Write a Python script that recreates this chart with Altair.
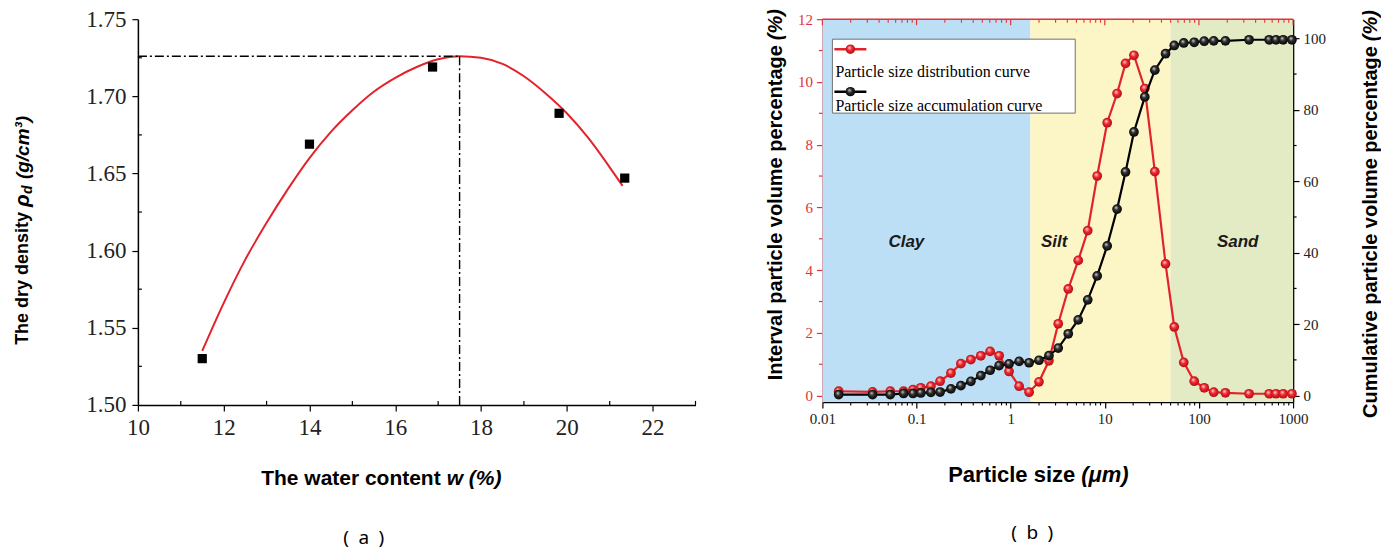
import altair as alt
import pandas as pd

# ---------------- (a) compaction data ----------------
water = [11.5, 14.0, 16.87, 19.82, 21.35]
density = [1.530, 1.669, 1.719, 1.689, 1.647]
fit_w = [11.5, 12.0, 12.5, 13.0, 13.5, 14.0, 14.5, 15.0, 15.5, 16.0, 16.5,
         17.0, 17.5, 18.0, 18.5, 19.0, 19.5, 20.0, 20.5, 21.0, 21.3]
fit_rho = [1.535, 1.566, 1.594, 1.618, 1.640, 1.660, 1.677, 1.691, 1.703, 1.712, 1.719,
           1.724, 1.726, 1.725, 1.721, 1.713, 1.702, 1.689, 1.673, 1.654, 1.642]
peak_w = 17.5
peak_rho = 1.726
w_major = [10, 12, 14, 16, 18, 20, 22]
w_minor = [11, 13, 15, 17, 19, 21, 23]
rho_major = [1.50, 1.55, 1.60, 1.65, 1.70, 1.75]
rho_minor = [1.525, 1.575, 1.625, 1.675, 1.725]

# ---------------- (b) particle size data ----------------
size_um = [0.0149, 0.0341, 0.0526, 0.0728, 0.0917, 0.111, 0.142, 0.178, 0.232, 0.296,
           0.378, 0.482, 0.605, 0.754, 0.961, 1.23, 1.57, 2.0, 2.55, 3.2,
           4.09, 5.22, 6.59, 8.30, 10.6, 13.5, 16.6, 20.4, 26.6, 34.0,
           44.2, 54.7, 69.0, 89.1, 113.8, 143.6, 191, 341, 557, 659,
           785, 973]
interval_pct = [0.14, 0.12, 0.14, 0.14, 0.19, 0.25, 0.30, 0.46, 0.72, 1.02,
                1.15, 1.27, 1.41, 1.27, 0.77, 0.30, 0.11, 0.44, 1.11, 2.29,
                3.40, 4.31, 5.26, 7.00, 8.70, 9.63, 10.59, 10.85, 9.79, 7.14,
                4.20, 2.19, 1.06, 0.46, 0.25, 0.11, 0.09, 0.06, 0.06, 0.06,
                0.06, 0.06]
cumulative_pct = [0.3, 0.3, 0.3, 0.6, 0.6, 0.75, 0.9, 1.0, 1.9, 2.8,
                  4.0, 5.6, 7.1, 8.4, 8.9, 9.6, 9.2, 9.9, 11.2, 13.3,
                  17.3, 21.2, 26.8, 33.5, 41.9, 52.2, 62.6, 73.8, 83.6, 91.1,
                  95.7, 98.0, 98.7, 98.9, 99.2, 99.3, 99.3, 99.6, 99.6, 99.6,
                  99.6, 99.6]
zone_names = ["Clay", "Silt", "Sand"]
zone_start = [0.01, 1.62, 50]
zone_end = [1.62, 50, 1000]
zone_colors = ["#bcdff5", "#fcf5c6", "#e3ebc4"]
zone_label_x = [0.078, 2.9, 258]
zone_label_y = [4.9, 4.9, 4.9]
x_major = [0.01, 0.1, 1, 10, 100, 1000]
x_minor = [m * d for d in [0.01, 0.1, 1, 10, 100] for m in range(2, 10)]
left_major = [0, 2, 4, 6, 8, 10, 12]
left_minor = [1, 3, 5, 7, 9, 11]
right_major = [0, 20, 40, 60, 80, 100]
right_minor = [10, 30, 50, 70, 90]

RED = "#e3232b"
AXRED = "#e0343a"
SERIF = "Liberation Serif"
SANS = "Liberation Sans"
one = pd.DataFrame({"a": [0]})


def txt(x, y, s, size=17, bold=True, italic=False, align="center", angle=0,
        font=SANS, color="black", baseline="middle"):
    kw = dict(font=font, fontSize=size, fontWeight="bold" if bold else "normal",
              fontStyle="italic" if italic else "normal", align=align,
              baseline=baseline, color=color)
    if angle:
        kw["angle"] = angle
    return alt.Chart(one).mark_text(**kw).encode(
        x=alt.value(x), y=alt.value(y), text=alt.value(s))


# =============== left chart ===============
LW, LH = 558, 386
wx_scale = alt.Scale(domain=[10, 23], nice=False)
ry_scale = alt.Scale(domain=[1.50, 1.75], nice=False)
wx_axis = alt.Axis(values=w_major, labelFont=SERIF, labelFontSize=23, labelColor="#222",
                   tickSize=6, tickColor="black", domainColor="black", domainWidth=1.5,
                   tickWidth=1.2, grid=False, title=None, labelPadding=6, labelFlush=False)
ry_axis = alt.Axis(values=rho_major, format=".2f", labelFont=SERIF, labelFontSize=23,
                   labelColor="#222", tickSize=6, tickColor="black", domainColor="black",
                   domainWidth=1.5, tickWidth=1.2, grid=False, title=None, labelPadding=6)

fit_df = pd.DataFrame({"w": fit_w, "rho": fit_rho})
pts_df = pd.DataFrame({"w": water, "rho": density})

fit_line = alt.Chart(fit_df).mark_line(color=RED, strokeWidth=2, interpolate="monotone").encode(
    x=alt.X("w:Q", scale=wx_scale, axis=wx_axis),
    y=alt.Y("rho:Q", scale=ry_scale, axis=ry_axis))
sq = alt.Chart(pts_df).mark_square(size=85, color="black", opacity=1).encode(
    x=alt.X("w:Q", scale=wx_scale, axis=wx_axis),
    y=alt.Y("rho:Q", scale=ry_scale, axis=ry_axis))
hline = alt.Chart(pd.DataFrame({"w0": [10], "w1": [peak_w], "rho": [peak_rho]})).mark_rule(
    color="black", strokeWidth=1.4, strokeDash=[9, 3, 2, 3]).encode(
    x=alt.X("w0:Q", scale=wx_scale, axis=wx_axis), x2="w1:Q",
    y=alt.Y("rho:Q", scale=ry_scale, axis=ry_axis))
vline = alt.Chart(pd.DataFrame({"w": [peak_w], "r0": [1.50], "r1": [peak_rho]})).mark_rule(
    color="black", strokeWidth=1.4, strokeDash=[9, 3, 2, 3]).encode(
    x=alt.X("w:Q", scale=wx_scale, axis=wx_axis),
    y=alt.Y("r0:Q", scale=ry_scale, axis=ry_axis), y2="r1:Q")
wminor = alt.Chart(pd.DataFrame({"w": w_minor})).mark_rule(color="black", strokeWidth=1.2).encode(
    x=alt.X("w:Q", scale=wx_scale, axis=wx_axis),
    y=alt.value(LH - 4), y2=alt.value(LH))
rminor = alt.Chart(pd.DataFrame({"rho": rho_minor})).mark_rule(color="black", strokeWidth=1.2).encode(
    y=alt.Y("rho:Q", scale=ry_scale, axis=ry_axis),
    x=alt.value(0), x2=alt.value(4))

left = alt.layer(
    fit_line, sq, hline, vline, wminor, rminor,
    txt(-115, 193, "The dry density", size=18, align="right", angle=270),
    txt(-115, 188, "ρ", size=21, italic=True, align="left", angle=270),
    txt(-110, 175, "d", size=14, italic=True, align="left", angle=270),
    txt(-115, 160, "(g/cm³)", size=19, italic=True, align="left", angle=270),
    txt(303, 460, "The water content", size=21, align="right"),
    txt(309, 460, "w (%)", size=21, italic=True, align="left"),
    txt(226, 519, "(\u2002a\u2002)", size=19, bold=False, font="Noto Sans"),
).properties(width=LW, height=LH)

# =============== right chart ===============
RW, RH = 471, 383
px_scale = alt.Scale(type="log", domain=[0.01, 1000], nice=False)
px_axis = alt.Axis(values=x_major, format="~g", labelFont=SERIF, labelFontSize=15,
                   labelColor="#222", tickSize=6, tickColor="black", domainColor="black",
                   domainWidth=1.5, tickWidth=1.2, grid=False, title=None, labelPadding=4,
                   labelFlush=False, labelOverlap=False)
ly_scale = alt.Scale(domain=[-0.2, 12], nice=False, zero=False)
ly_axis = alt.Axis(orient="left", values=left_major, labelFont=SERIF, labelFontSize=15,
                   labelColor=AXRED, tickColor=AXRED, domainColor=AXRED, domainWidth=1.5,
                   tickWidth=1.2, tickSize=6, grid=False, title=None, labelPadding=4)
cy_scale = alt.Scale(domain=[-1.76, 105.36], nice=False, zero=False)
cy_axis = alt.Axis(orient="right", values=right_major, labelFont=SERIF, labelFontSize=15,
                   labelColor="#222", tickColor="black", domainColor="black", domainWidth=1.5,
                   tickWidth=1.2, tickSize=6, grid=False, title=None, labelPadding=4)

red_grad = alt.Gradient(gradient="radial", x1=0.38, y1=0.32, r1=0.0, x2=0.5, y2=0.5, r2=0.55,
                        stops=[alt.GradientStop(color="#ffe3e3", offset=0),
                               alt.GradientStop(color="#f2262e", offset=0.45),
                               alt.GradientStop(color="#a80c12", offset=1)])
blk_grad = alt.Gradient(gradient="radial", x1=0.38, y1=0.32, r1=0.0, x2=0.5, y2=0.5, r2=0.55,
                        stops=[alt.GradientStop(color="#e0e0e0", offset=0),
                               alt.GradientStop(color="#303030", offset=0.4),
                               alt.GradientStop(color="#000000", offset=1)])

zones = pd.DataFrame({"zone": zone_names, "start": zone_start, "end": zone_end})
band = alt.Chart(zones).mark_rect(opacity=1).encode(
    x=alt.X("start:Q", scale=px_scale, axis=px_axis), x2="end:Q",
    y=alt.value(0), y2=alt.value(RH),
    color=alt.Color("zone:N", scale=alt.Scale(domain=zone_names, range=zone_colors), legend=None))

psd = pd.DataFrame({"size": size_um, "interval": interval_pct, "cum": cumulative_pct})
zlab = pd.DataFrame({"zone": zone_names, "lx": zone_label_x, "ly": zone_label_y})

red_line = alt.Chart(psd).mark_line(color=RED, strokeWidth=2.2).encode(
    x=alt.X("size:Q", scale=px_scale, axis=px_axis),
    y=alt.Y("interval:Q", scale=ly_scale, axis=ly_axis))
red_pts = alt.Chart(psd).mark_point(filled=True, size=95, fill=red_grad, opacity=1, strokeWidth=0).encode(
    x=alt.X("size:Q", scale=px_scale, axis=px_axis),
    y=alt.Y("interval:Q", scale=ly_scale, axis=ly_axis))
zone_text = alt.Chart(zlab).mark_text(font=SANS, fontSize=17, fontWeight="bold", fontStyle="italic",
                                      color="#1a1a1a").encode(
    x=alt.X("lx:Q", scale=px_scale, axis=px_axis),
    y=alt.Y("ly:Q", scale=ly_scale, axis=ly_axis), text="zone:N")
lminor = alt.Chart(pd.DataFrame({"v": left_minor})).mark_rule(color=AXRED, strokeWidth=1.2).encode(
    y=alt.Y("v:Q", scale=ly_scale, axis=ly_axis), x=alt.value(-3.5), x2=alt.value(0))
red_group = alt.layer(zone_text, lminor, red_line, red_pts)

blk_line = alt.Chart(psd).mark_line(color="black", strokeWidth=2.2).encode(
    x=alt.X("size:Q", scale=px_scale, axis=px_axis),
    y=alt.Y("cum:Q", scale=cy_scale, axis=cy_axis))
blk_pts = alt.Chart(psd).mark_point(filled=True, size=95, fill=blk_grad, opacity=1, strokeWidth=0).encode(
    x=alt.X("size:Q", scale=px_scale, axis=px_axis),
    y=alt.Y("cum:Q", scale=cy_scale, axis=cy_axis))
rminor2 = alt.Chart(pd.DataFrame({"v": right_minor})).mark_rule(color="black", strokeWidth=1.2).encode(
    y=alt.Y("v:Q", scale=cy_scale, axis=cy_axis), x=alt.value(RW), x2=alt.value(RW + 3.5))
blk_group = alt.layer(rminor2, blk_line, blk_pts)

xminor_df = pd.DataFrame({"v": x_minor})
xmaj_df = pd.DataFrame({"v": x_major})
bot_minor = alt.Chart(xminor_df).mark_rule(color="black", strokeWidth=1.1).encode(
    x=alt.X("v:Q", scale=px_scale, axis=px_axis), y=alt.value(RH), y2=alt.value(RH + 3.5))
top_minor = alt.Chart(xminor_df).mark_rule(color=AXRED, strokeWidth=1.1).encode(
    x=alt.X("v:Q", scale=px_scale, axis=px_axis), y=alt.value(0), y2=alt.value(3.5))
top_major = alt.Chart(xmaj_df).mark_rule(color=AXRED, strokeWidth=1.2).encode(
    x=alt.X("v:Q", scale=px_scale, axis=px_axis), y=alt.value(0), y2=alt.value(6))
top_line = alt.Chart(one).mark_rule(color=AXRED, strokeWidth=1.5).encode(
    x=alt.value(0), x2=alt.value(RW), y=alt.value(0))

# legend box
leg_box = alt.Chart(one).mark_rect(fill="white", stroke="#707070", strokeWidth=1).encode(
    x=alt.value(10), x2=alt.value(253), y=alt.value(20), y2=alt.value(94))
leg_red_line = alt.Chart(one).mark_rule(color=RED, strokeWidth=2.5).encode(
    x=alt.value(12), x2=alt.value(44), y=alt.value(30))
leg_red_pt = alt.Chart(one).mark_point(filled=True, size=90, fill=red_grad, opacity=1, strokeWidth=0).encode(
    x=alt.value(28), y=alt.value(30))
leg_blk_line = alt.Chart(one).mark_rule(color="black", strokeWidth=2.5).encode(
    x=alt.value(12), x2=alt.value(44), y=alt.value(72.5))
leg_blk_pt = alt.Chart(one).mark_point(filled=True, size=90, fill=blk_grad, opacity=1, strokeWidth=0).encode(
    x=alt.value(28), y=alt.value(72.5))

right = alt.layer(
    band, top_line, top_major, top_minor, bot_minor,
    red_group, blk_group,
    leg_box, leg_red_line, leg_red_pt, leg_blk_line, leg_blk_pt,
    txt(13, 52.5, "Particle size distribution curve", size=16, bold=False, font=SERIF, align="left"),
    txt(13, 87, "Particle size accumulation curve", size=16, bold=False, font=SERIF, align="left"),
    txt(-46, 26, "Interval particle volume percentage", size=20, align="right", angle=270),
    txt(-46, 21, "(%)", size=20, italic=True, align="left", angle=270),
    txt(549, 27, "Cumulative particle volume percentage", size=20, align="right", angle=270),
    txt(549, 22, "(%)", size=20, italic=True, align="left", angle=270),
    txt(253, 456, "Particle size", size=22, align="right"),
    txt(259, 456, "(μm)", size=22, italic=True, align="left"),
    txt(210, 514, "(\u2002b\u2002)", size=19, bold=False, font="Noto Sans"),
).resolve_scale(y="independent").properties(width=RW, height=RH)

chart = alt.hconcat(left, right, spacing=127, bounds="flush").properties(
    padding={"left": 12, "top": 8, "right": 0, "bottom": 2},
    background="white",
).configure_view(stroke=None)

chart.save("out.html", embed_options={"renderer": "svg", "actions": False})
